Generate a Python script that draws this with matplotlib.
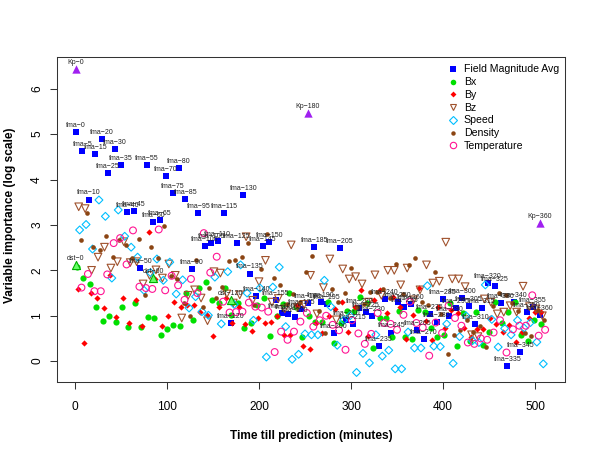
import matplotlib
matplotlib.use('Agg')
import matplotlib.pyplot as plt
from matplotlib.lines import Line2D

plt.rcParams['font.family'] = ['Liberation Sans', 'DejaVu Sans']

# ---------------- data ----------------
lags = list(range(0, 361, 5))

fma = [5.04, 4.63, 3.56, 4.57, 4.90, 4.14, 4.68, 4.31, 3.28, 3.30,
       2.06, 4.33, 3.07, 3.11, 4.07, 3.70, 4.26, 3.57, 2.03, 3.26,
       2.54, 2.60, 2.64, 3.27, 0.83, 2.61, 3.66, 1.93, 1.44, 2.54,
       2.62, 1.35, 1.06, 1.04, 0.97, 1.15, 1.29, 2.52, 1.31, 1.26,
       0.62, 2.50, 0.91, 0.81, 1.17, 1.08, 1.00, 0.34, 1.37, 0.63,
       1.30, 1.20, 1.25, 0.69, 0.48, 1.04, 0.86, 1.37, 1.00, 1.17,
       1.40, 1.22, 0.82, 1.18, 1.72, 1.66, 1.27, -0.10, 1.30, 0.20,
       1.09, 1.20, 1.02]

bx = [2.08, 1.83, 1.70, 1.19, 0.89, 0.99, 0.86, 1.20, 0.76, 1.29,
      0.76, 0.98, 0.95, 0.57, 0.70, 0.80, 0.78, 1.51, 0.91, 1.60,
      1.75, 1.34, 1.28, 1.61, 1.01, 1.27, 0.73, 0.84, 1.24, 1.39,
      0.55, 1.00, 1.25, 1.51, 1.20, 0.54, 0.99, 0.86, 0.86, 1.31,
      0.40, 0.85, 1.10, 1.10, 1.42, 1.28, 0.29, 0.96, 0.96, 0.53,
      1.10, 0.54, 0.48, 1.13, 1.09, 0.72, 0.53, 0.58, 1.27, 0.33,
      1.05, 0.45, 1.08, 0.36, 0.65, 1.31, 0.84, 1.09, 1.31, 0.58,
      0.45, 0.91, 0.81]

by = [1.58, 0.39, 1.51, 1.39, 1.17, 1.89, 0.97, 1.38, 0.85, 1.34,
      0.78, 2.84, 1.81, 0.78, 1.00, 1.30, 1.19, 1.24, 1.23, 1.09,
      1.02, 0.56, 1.19, 1.40, 0.84, 1.20, 0.82, 0.66, 0.96, 0.83,
      0.87, 1.00, 0.58, 0.58, 1.24, 0.34, 0.26, 0.85, 0.62, 1.00,
      1.15, 1.30, 0.65, 1.20, 1.57, 0.56, 1.35, 1.57, 1.06, 1.42,
      1.19, 0.48, 1.01, 1.60, 0.89, 0.47, 1.20, 0.73, 1.13, 1.06,
      0.74, 0.54, 0.71, 0.70, 0.96, 0.82, 0.64, 0.80, 0.43, 0.65,
      0.95, 1.08, 1.08]

bz = [3.40, 3.36, 2.00, 2.29, 2.51, 2.05, 2.19, 2.63, 2.17, 2.19,
      1.70, 1.89, 2.01, 1.83, 2.14, 1.89, 0.95, 1.45, 1.57, 1.39,
      0.89, 1.97, 1.94, 1.48, 1.28, 1.46, 2.74, 1.34, 1.75, 2.22,
      1.30, 1.38, 1.15, 2.56, 1.18, 1.25, 1.89, 1.04, 1.62, 2.25,
      0.91, 2.03, 1.81, 1.86, 1.70, 1.30, 1.90, 1.45, 2.00, 2.00,
      1.68, 2.05, 1.35, 1.57, 2.12, 1.72, 1.76, 2.62, 1.81, 1.81,
      1.64, 0.58, 0.54, 1.37, 1.30, 1.04, 1.08, 1.22, 1.08, 1.65,
      1.20, 1.15, 1.00]

speed = [2.89, 3.01, 2.47, 3.55, 3.19, 1.83, 3.33, 2.75, 2.51, 2.29,
         1.56, 1.95, 2.25, 1.78, 2.18, 1.48, 1.79, 1.17, 1.42, 1.09,
         1.01, 1.85, 0.82, 1.97, 1.25, 2.12, 1.50, 0.90, 1.61, 0.09,
         1.63, 2.07, 0.76, 0.04, 0.15, 0.60, 0.58, 0.58, 1.78, 1.20,
         0.35, 0.90, 1.00, -0.25, 0.17, -0.04, 0.58, 0.11, 0.24, -0.17,
         -0.17, 0.64, 0.29, 0.29, 1.66, 0.33, 0.32, 0.82, -0.05, 0.54,
         1.00, 0.45, 0.41, 1.68, 0.92, 0.31, 0.72, 0.58, 0.90, 0.73,
         0.85, 0.42, -0.06]

density = [2.67, 3.26, 2.52, 2.44, 2.75, 2.29, 2.67, 2.55, 2.27, 2.69,
           1.45, 2.52, 2.27, 2.98, 1.88, 1.81, 1.28, 1.00, 2.23, 1.19,
           1.62, 1.40, 1.64, 2.20, 2.23, 2.30, 2.60, 1.23, 2.03, 2.80,
           1.84, 1.68, 1.26, 1.48, 1.31, 1.97, 2.32, 1.10, 0.62, 1.59,
           1.31, 1.50, 2.05, 1.20, 1.25, 1.53, 1.53, 1.59, 1.39, 2.14,
           1.48, 2.12, 2.27, 1.31, 1.24, 1.96, 1.04, 0.16, 0.58, 0.69,
           0.90, 0.65, 0.78, 0.32, 1.22, 1.51, 1.46, 1.28, 1.10, 0.62,
           0.56, 1.13, 0.90]

temperature = [1.62, 1.92, 1.54, 1.54, 1.91, 2.60, 2.71, 2.13, 2.88, 1.64,
               1.61, 1.59, 2.90, 1.56, 1.88, 1.67, 1.35, 1.81, 1.50, 2.82,
               1.95, 2.30, 1.31, 1.07, 1.08, 1.09, 1.29, 1.20, 1.18, 1.09,
               0.20, 0.65, 0.47, 0.65, 0.87, 1.06, 0.76, 0.90, 1.00, 0.80,
               0.68, 0.25, 0.90, 0.61, 0.38, 0.60, 1.06, 0.84, 0.82, 0.69,
               1.02, 1.31, 0.84, 0.74, 0.12, 0.85, 0.62, 1.22, 0.95, 0.78,
               0.41, 0.38, 0.50, 0.47, 0.63, 0.90, 0.19, 0.70, 0.78, 0.78,
               1.45, 0.56, 0.69]

kp_lags = [0, 180, 360]
kp_vals = [6.44, 5.47, 3.04]
dst_lags = [0, 60, 120]
dst_vals = [2.11, 1.84, 1.35]

legend_labels = ["Field Magnitude Avg", "Bx", "By", "Bz", "Speed",
                 "Density", "Temperature"]


def feat_pos(lag_list, slot):
    # position of a feature in the ordered feature list (7 features per lag)
    return [7 * (l // 5) + slot for l in lag_list]


# ---------------- figure ----------------
fig = plt.figure(figsize=(5.95, 4.55), dpi=100)
ax = fig.add_axes([57 / 595, 1 - 382 / 455, 508 / 595, 325 / 455])

lw = 0.8
ax.scatter(feat_pos(lags, 1), fma, marker='s', s=20, color='#0000FF',
           linewidths=0, zorder=3)
ax.scatter(feat_pos(lags, 2), bx, marker='o', s=20, color='#00E000',
           linewidths=0, zorder=3)
ax.scatter(feat_pos(lags, 3), by, marker='D', s=10, color='#FF0000',
           linewidths=0, zorder=3)
ax.scatter(feat_pos(lags, 4), bz, marker='v', s=30, facecolors='none',
           edgecolors='#A0522D', linewidths=lw, zorder=3)
ax.scatter(feat_pos(lags, 5), speed, marker='D', s=16, facecolors='none',
           edgecolors='#00BFFF', linewidths=lw, zorder=3)
ax.scatter(feat_pos(lags, 6), density, marker='o', s=11, color='#8B4513',
           linewidths=0, zorder=3)
ax.scatter(feat_pos(lags, 7), temperature, marker='o', s=24,
           facecolors='none', edgecolors='#FF1493', linewidths=lw, zorder=3)
ax.scatter(feat_pos(kp_lags, 1), kp_vals, marker='^', s=36, color='#A020F0',
           linewidths=0, zorder=4)
ax.scatter(feat_pos(dst_lags, 1), dst_vals, marker='^', s=34,
           facecolors='#66FF66', edgecolors='#00B000', linewidths=lw, zorder=4)

lab_kw = dict(textcoords='offset points', xytext=(0, 2.2), ha='center',
              va='bottom', fontsize=5.0, color='#222222', zorder=5)
for l, x, y in zip(lags, feat_pos(lags, 1), fma):
    ax.annotate(f"fma\u2212{l}", (x, y), **lab_kw)
for l, x, y in zip(kp_lags, feat_pos(kp_lags, 1), kp_vals):
    ax.annotate(f"Kp\u2212{l}", (x, y), **lab_kw)
for l, x, y in zip(dst_lags, feat_pos(dst_lags, 1), dst_vals):
    ax.annotate(f"dst\u2212{l}", (x, y), **lab_kw)

ax.set_xlim(-19.6, 532.6)
ax.set_ylim(-0.46, 6.70)
ax.set_xticks([0, 100, 200, 300, 400, 500])
ax.set_yticks([0, 1, 2, 3, 4, 5, 6])
ax.tick_params(axis='both', direction='out', length=5, width=0.75,
               labelsize=8.6, color='#333333')
ax.tick_params(axis='x', pad=8.5)
ax.tick_params(axis='y', pad=5, labelrotation=90)
for t in ax.get_yticklabels():
    t.set_va('center')
for sp in ax.spines.values():
    sp.set_linewidth(0.75)
    sp.set_color('#333333')

ax.set_xlabel("Time till prediction (minutes)", fontsize=8.6,
              fontweight='bold')
ax.set_ylabel("Variable importance (log scale)", fontsize=8.6,
              fontweight='bold')
ax.xaxis.set_label_coords(0.5, (382 - 435.5) / 325)
ax.xaxis.label.set_va('center')
ax.yaxis.set_label_coords((9.5 - 57) / 508, 0.5 + (219.5 - 215) / 325)
ax.yaxis.label.set_va('center')
ax.yaxis.label.set_ha('center')

handles = [
    Line2D([], [], marker='s', linestyle='none', markersize=4,
           markerfacecolor='#0000FF', markeredgewidth=0),
    Line2D([], [], marker='o', linestyle='none', markersize=4,
           markerfacecolor='#00E000', markeredgewidth=0),
    Line2D([], [], marker='D', linestyle='none', markersize=3,
           markerfacecolor='#FF0000', markeredgewidth=0),
    Line2D([], [], marker='v', linestyle='none', markersize=5,
           markerfacecolor='none', markeredgecolor='#A0522D',
           markeredgewidth=lw),
    Line2D([], [], marker='D', linestyle='none', markersize=3.8,
           markerfacecolor='none', markeredgecolor='#00BFFF',
           markeredgewidth=lw),
    Line2D([], [], marker='o', linestyle='none', markersize=3.2,
           markerfacecolor='#8B4513', markeredgewidth=0),
    Line2D([], [], marker='o', linestyle='none', markersize=4.6,
           markerfacecolor='none', markeredgecolor='#FF1493',
           markeredgewidth=lw),
]
ax.legend(handles, legend_labels, loc='upper left',
          bbox_to_anchor=(449 / 595, 1 - 64.5 / 455),
          bbox_transform=fig.transFigure, frameon=False, fontsize=7.6,
          handlelength=0.8, handletextpad=0.6, labelspacing=0.26,
          borderpad=0, borderaxespad=0)

fig.savefig("out.png", dpi=100)
